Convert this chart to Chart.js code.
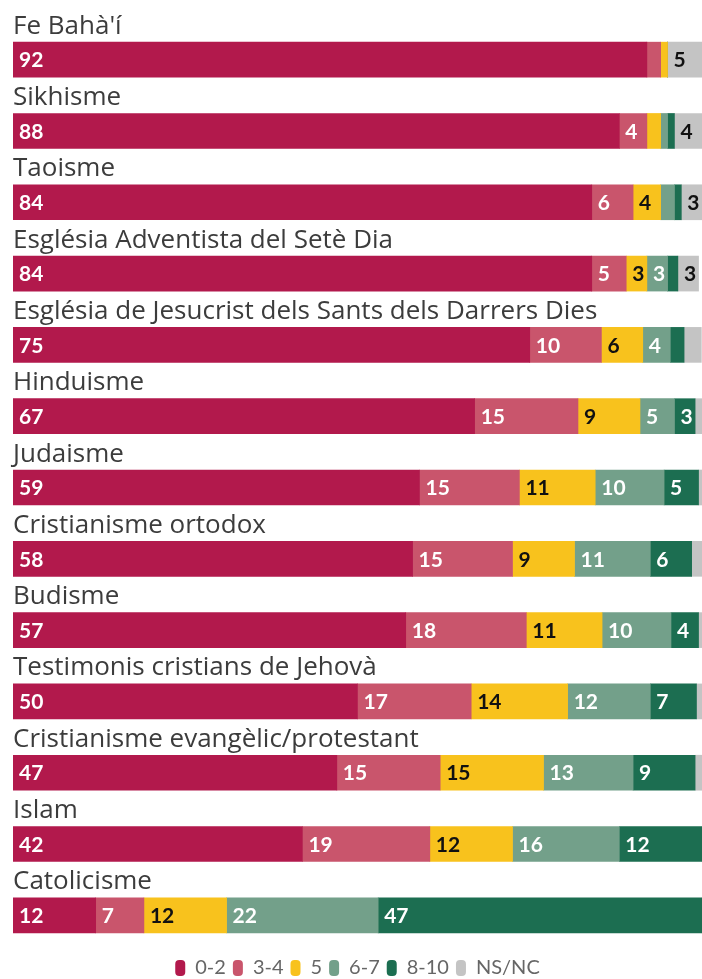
<!DOCTYPE html>
<html>
<head>
<meta charset="utf-8">
<script src="https://cdn.jsdelivr.net/npm/chart.js@4.4.1/dist/chart.umd.min.js"></script>
<style>
  body { margin: 0; background: #fff; }
  #wrap { width: 702px; height: 979px; position: relative; }
</style>
</head>
<body>
<div id="wrap"><canvas id="canvas"></canvas></div>
<script>
// categories (top to bottom)
const religions = [
  "Fe Bahà'í",
  'Sikhisme',
  'Taoisme',
  'Església Adventista del Setè Dia',
  'Església de Jesucrist dels Sants dels Darrers Dies',
  'Hinduisme',
  'Judaisme',
  'Cristianisme ortodox',
  'Budisme',
  'Testimonis cristians de Jehovà',
  'Cristianisme evangèlic/protestant',
  'Islam',
  'Catolicisme'
];

// percentages per score band
const v02  = [92, 88, 84, 84, 75, 67, 59, 58, 57, 50, 47, 42, 12];
const v34  = [2, 4, 6, 5, 10.4, 15, 14.5, 14.5, 17.5, 16.5, 15, 18.5, 7];
const v5   = [1, 2, 4, 3, 6, 9, 11, 9, 11, 14, 15, 12, 12];
const v67  = [0, 1, 2, 3, 4, 5, 10, 11, 10, 12, 13, 15.5, 22];
const v810 = [0, 1, 1, 1.5, 2, 3, 5, 6, 4, 6.7, 9, 12, 47];
const vns  = [5, 4, 3, 3, 2.5, 1, 0.5, 1.5, 0.5, 0.8, 1, 0.7, 0];

const bandNames = ['0-2', '3-4', '5', '6-7', '8-10', 'NS/NC'];
const bandColors = ['#b2194c', '#c9556c', '#f8c21d', '#73a08a', '#1c6e51', '#c4c4c4'];
const bandTextColors = ['#fff', '#fff', '#111', '#fff', '#fff', '#111'];
const bandValues = [v02, v34, v5, v67, v810, vns];

const datasets = bandNames.map((name, i) => ({
  label: name,
  data: bandValues[i],
  backgroundColor: bandColors[i],
  borderWidth: 0,
  barThickness: 35
}));

// category names above each bar + value labels inside segments
const labelsPlugin = {
  id: 'rowLabels',
  afterDatasetsDraw(chart) {
    const ctx = chart.ctx;
    const yScale = chart.scales.y;
    const left = chart.chartArea.left;
    ctx.save();
    ctx.font = '26px "Open Sans"';
    ctx.fillStyle = '#3c3c3c';
    ctx.textAlign = 'left';
    ctx.textBaseline = 'alphabetic';
    religions.forEach((name, i) => {
      const y = yScale.getPixelForValue(i);
      ctx.fillText(name, left, y - 26);
    });

    ctx.font = 'bold 21px Lato';
    ctx.textBaseline = 'middle';
    chart.data.datasets.forEach((ds, di) => {
      const meta = chart.getDatasetMeta(di);
      meta.data.forEach((bar, i) => {
        const v = ds.data[i];
        if (v < 3) return;
        ctx.fillStyle = bandTextColors[di];
        ctx.fillText(String(Math.round(v)), bar.base + 6, bar.y + 1);
      });
    });
    ctx.restore();
  }
};

new Chart('canvas', {
  type: 'bar',
  data: { labels: religions, datasets: datasets },
  options: {
    indexAxis: 'y',
    responsive: true,
    maintainAspectRatio: false,
    animation: false,
    layout: { padding: { left: 13, right: 0, top: 24, bottom: -9 } },
    scales: {
      x: { stacked: true, min: 0, max: 100, display: false },
      y: { stacked: true, display: false }
    },
    plugins: {
      tooltip: { enabled: false },
      legend: {
        position: 'bottom',
        labels: {
          boxWidth: 10,
          boxHeight: 16,
          useBorderRadius: true,
          borderRadius: 4,
          padding: 7,
          color: '#666',
          font: { family: 'Lato', size: 20, lineHeight: 1 }
        }
      }
    }
  },
  plugins: [labelsPlugin]
});
</script>
</body>
</html>
